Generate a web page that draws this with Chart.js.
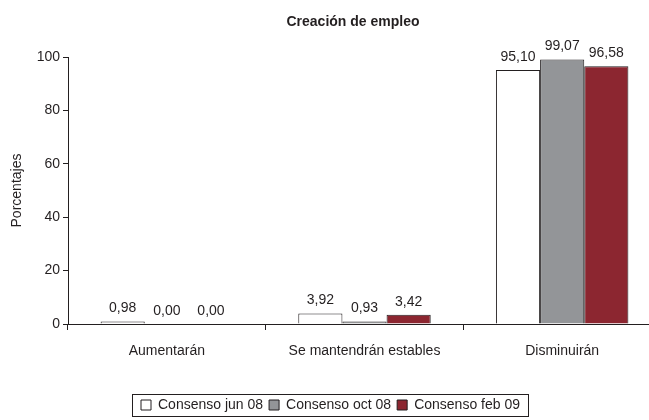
<!DOCTYPE html>
<html>
<head>
<meta charset="utf-8">
<script src="https://cdn.jsdelivr.net/npm/chart.js@4"></script>
<style>
  html, body { margin: 0; padding: 0; background: #fff; overflow: hidden; }
  #wrap { width: 661px; height: 420px; }
</style>
</head>
<body>
<div id="wrap"><canvas id="grafico"></canvas></div>
<script>
// Datos de la encuesta
const categorias = ["Aumentarán", "Se mantendrán estables", "Disminuirán"];
const consensoJun08 = [0.98, 3.92, 95.10];
const consensoOct08 = [0.00, 0.93, 99.07];
const consensoFeb09 = [0.00, 3.42, 96.58];
const ticksY = [0, 20, 40, 60, 80, 100];

const fuente = "'Liberation Sans', Arial, sans-serif";
const tinta = "#231f20";

// Etiquetas de valor sobre cada barra (formato con coma decimal)
const etiquetasValor = {
  id: "etiquetasValor",
  afterDatasetsDraw(chart) {
    const ctx = chart.ctx;
    ctx.save();
    ctx.font = "14px " + fuente;
    ctx.fillStyle = tinta;
    ctx.textAlign = "center";
    ctx.textBaseline = "bottom";
    chart.data.datasets.forEach((ds, i) => {
      chart.getDatasetMeta(i).data.forEach((bar, j) => {
        const texto = ds.data[j].toFixed(2).replace(".", ",");
        ctx.fillText(texto, bar.x, bar.y - 6);
      });
    });
    ctx.restore();
  }
};

// Marco alrededor de la leyenda
const marcoLeyenda = {
  id: "marcoLeyenda",
  afterDraw(chart) {
    const cajas = chart.legend.legendHitBoxes;
    if (!cajas || !cajas.length) return;
    const izq = cajas[0].left - 9;
    const der = cajas[cajas.length - 1].left + cajas[cajas.length - 1].width + 8;
    const arriba = cajas[0].top - 4;
    const abajo = cajas[0].top + cajas[0].height + 4;
    const ctx = chart.ctx;
    ctx.save();
    ctx.strokeStyle = tinta;
    ctx.lineWidth = 1;
    ctx.strokeRect(Math.round(izq) + 0.5, Math.round(arriba) + 0.5, Math.round(der - izq), Math.round(abajo - arriba));
    ctx.restore();
  }
};

// Título centrado manualmente
const titulo = {
  id: "titulo",
  afterDraw(chart) {
    const ctx = chart.ctx;
    ctx.save();
    ctx.font = "bold 14px " + fuente;
    ctx.fillStyle = tinta;
    ctx.textAlign = "center";
    ctx.textBaseline = "middle";
    ctx.fillText("Creación de empleo", 353, 22);
    ctx.restore();
  }
};

new Chart(document.getElementById("grafico"), {
  type: "bar",
  data: {
    labels: categorias,
    datasets: [
      {
        label: "Consenso jun 08",
        data: consensoJun08,
        backgroundColor: "#ffffff",
        borderColor: tinta,
        borderWidth: 1
      },
      {
        label: "Consenso oct 08",
        data: consensoOct08,
        backgroundColor: "#939598",
        borderColor: tinta,
        borderWidth: 1
      },
      {
        label: "Consenso feb 09",
        data: consensoFeb09,
        backgroundColor: "#8c2630",
        borderColor: tinta,
        borderWidth: 1
      }
    ]
  },
  options: {
    responsive: true,
    maintainAspectRatio: false,
    animation: false,
    categoryPercentage: 0.67,
    barPercentage: 1,
    layout: { padding: { top: 57, right: 0, bottom: -2, left: 0 } },
    plugins: {
      title: { display: false },
      tooltip: { enabled: false },
      legend: {
        position: "bottom",
        labels: {
          font: { family: fuente, size: 14 },
          color: tinta,
          boxWidth: 10,
          boxHeight: 10,
          padding: 6,
          useBorderRadius: false
        }
      }
    },
    scales: {
      x: {
        afterFit: (escala) => { escala.height = 68; },
        border: { color: tinta, width: 1 },
        grid: { offset: true, drawOnChartArea: false, drawTicks: true, tickLength: 6, color: tinta },
        ticks: { font: { family: fuente, size: 14 }, color: tinta, padding: 13 }
      },
      y: {
        min: 0,
        max: 100,
        afterFit: (escala) => { escala.width = 68; },
        afterBuildTicks: (escala) => { escala.ticks = ticksY.map(v => ({ value: v })); },
        border: { color: tinta, width: 1 },
        grid: { drawOnChartArea: false, drawTicks: true, tickLength: 5, color: tinta },
        ticks: { font: { family: fuente, size: 14 }, color: tinta, padding: 3 },
        title: {
          display: true,
          text: "Porcentajes",
          font: { family: fuente, size: 14 },
          color: tinta,
          padding: { top: 9, bottom: 0 }
        }
      }
    }
  },
  plugins: [etiquetasValor, marcoLeyenda, titulo]
});
</script>
</body>
</html>
